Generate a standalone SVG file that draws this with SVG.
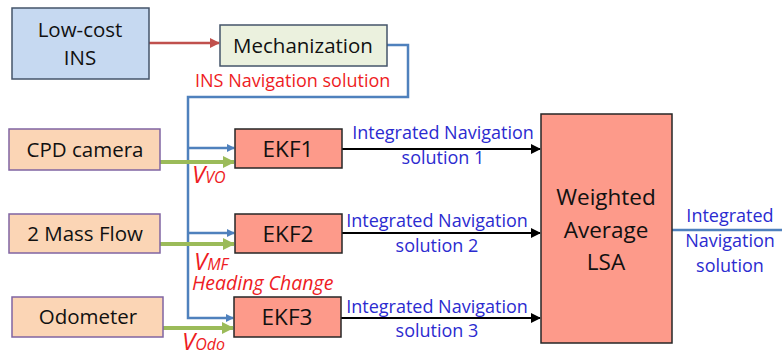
<svg xmlns="http://www.w3.org/2000/svg" width="782" height="354" viewBox="0 0 782 354">
<style>
text{font-family:"Open Sans","Liberation Sans",sans-serif}
.lbl{font-size:20.5px;fill:#111;text-anchor:middle}
.ekf{font-size:22.5px;fill:#111;text-anchor:middle}
.blue{font-size:18px;fill:#2b2bd0;text-anchor:middle}
.red{font-size:18px;fill:#ee1c24}
.redi{fill:#ee1c24;font-style:italic}
.src{fill:#fbd5b5;stroke:#8064a2;stroke-width:1.5}
.ek{fill:#fd9a8a;stroke:#262626;stroke-width:1.5}
.bl{fill:none;stroke:#4f81bd;stroke-width:2.5}
.gr{fill:none;stroke:#9bbb59;stroke-width:4}
.bk{fill:none;stroke:#000;stroke-width:2}
</style>
<defs>
<marker id="ab" markerWidth="8" markerHeight="8" refX="7" refY="4" orient="auto" markerUnits="userSpaceOnUse"><path d="M0,0 L8,4 L0,8 z" fill="#4f81bd"/></marker>
<marker id="ag" markerWidth="12" markerHeight="12" refX="11" refY="6" orient="auto" markerUnits="userSpaceOnUse"><path d="M0,0 L12,6 L0,12 z" fill="#9bbb59"/></marker>
<marker id="ak" markerWidth="10" markerHeight="10" refX="9" refY="5" orient="auto" markerUnits="userSpaceOnUse"><path d="M0,0 L10,5 L0,10 z" fill="#000"/></marker>
<marker id="ar" markerWidth="10" markerHeight="10" refX="9" refY="5" orient="auto" markerUnits="userSpaceOnUse"><path d="M0,0 L10,5 L0,10 z" fill="#c0504d"/></marker>
</defs>
<g id="connectors">
<path d="M149,43 H219" stroke="#c0504d" stroke-width="2.5" fill="none" marker-end="url(#ar)"/>
<path class="bl" d="M387,45 H408 V97 H188 V318 H233" marker-end="url(#ab)"/>
<path class="bl" d="M188,148 H234" marker-end="url(#ab)"/>
<path class="bl" d="M188,233 H234" marker-end="url(#ab)"/>
<path class="gr" d="M160,162 H234" marker-end="url(#ag)"/>
<path class="gr" d="M160,244 H234" marker-end="url(#ag)"/>
<path class="gr" d="M163,328 H233" marker-end="url(#ag)"/>
<path class="bk" d="M342,149 H540" marker-end="url(#ak)"/>
<path class="bk" d="M342,233 H540" marker-end="url(#ak)"/>
<path class="bk" d="M341,318 H540" marker-end="url(#ak)"/>
<path d="M672,230 H782" stroke="#4f81bd" stroke-width="2.5" fill="none"/>
<text class="red" x="195" y="87">INS Navigation solution</text>
<text class="redi" x="192" y="183"><tspan font-size="24">V</tspan><tspan font-size="16">VO</tspan></text>
<text class="redi" x="194" y="270"><tspan font-size="24">V</tspan><tspan font-size="16">MF</tspan></text>
<text class="redi" x="192" y="290" font-size="19.5">Heading Change</text>
<text class="redi" x="182" y="350"><tspan font-size="24">V</tspan><tspan font-size="16">Odo</tspan></text>
<text class="blue" x="443" y="139">Integrated Navigation</text>
<text class="blue" x="443" y="164">solution 1</text>
<text class="blue" x="437" y="227">Integrated Navigation</text>
<text class="blue" x="437" y="252">solution 2</text>
<text class="blue" x="437" y="313">Integrated Navigation</text>
<text class="blue" x="437" y="337">solution 3</text>
<text class="blue" x="730" y="222">Integrated</text>
<text class="blue" x="730" y="247">Navigation</text>
<text class="blue" x="730" y="272">solution</text>
</g>
<g id="ins">
<rect x="12" y="8" width="137" height="71" fill="#c6d9f1" stroke="#44546a" stroke-width="1.5"/>
<text class="lbl" x="80" y="37">Low-cost</text>
<text class="lbl" x="80" y="65">INS</text>
</g>
<g id="mech">
<rect x="220" y="25" width="167" height="41" fill="#ebf1de" stroke="#44546a" stroke-width="1.5"/>
<text class="lbl" x="303" y="53">Mechanization</text>
</g>
<g id="cpd">
<rect class="src" x="9" y="129" width="151" height="41"/>
<text class="lbl" x="85" y="157">CPD camera</text>
</g>
<g id="massflow">
<rect class="src" x="9" y="214" width="151" height="39"/>
<text class="lbl" x="85" y="241">2 Mass Flow</text>
</g>
<g id="odometer">
<rect class="src" x="12" y="297" width="151" height="40"/>
<text class="lbl" x="88" y="324">Odometer</text>
</g>
<g id="ekf1">
<rect class="ek" x="235" y="129" width="107" height="39"/>
<text class="ekf" x="288" y="157">EKF1</text>
</g>
<g id="ekf2">
<rect class="ek" x="235" y="214" width="107" height="39"/>
<text class="ekf" x="288" y="242">EKF2</text>
</g>
<g id="ekf3">
<rect class="ek" x="234" y="297" width="107" height="40"/>
<text class="ekf" x="287" y="325">EKF3</text>
</g>
<g id="lsa">
<rect class="ek" x="541" y="114" width="131" height="229"/>
<text class="ekf" x="606" y="205" font-size="24.5">Weighted</text>
<text class="ekf" x="606" y="238" font-size="24.5">Average</text>
<text class="ekf" x="606" y="270" font-size="24.5">LSA</text>
</g>
</svg>
